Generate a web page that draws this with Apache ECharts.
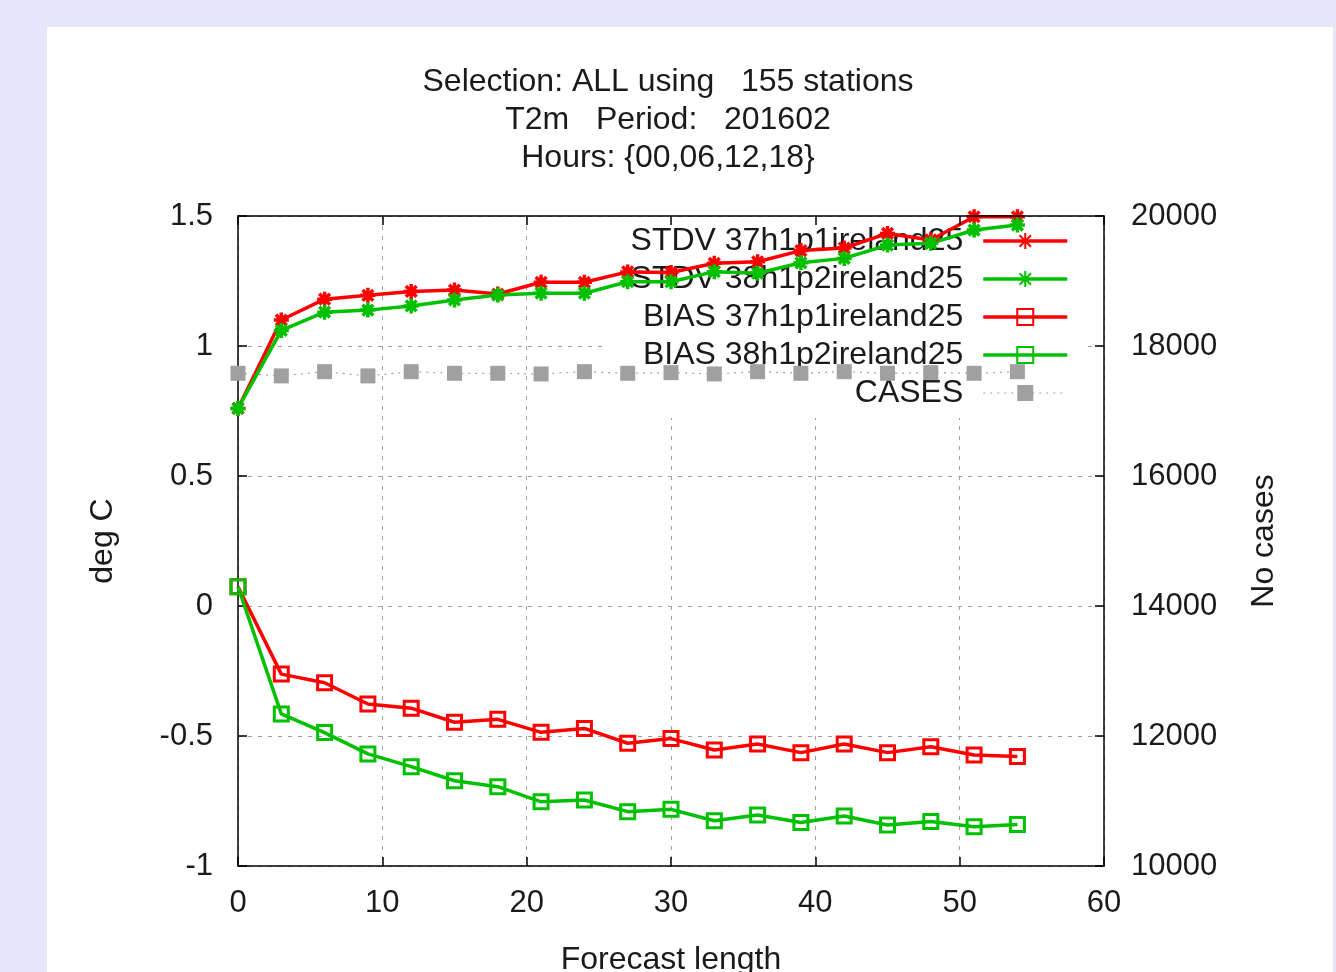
<!DOCTYPE html>
<html>
<head>
<meta charset="utf-8">
<script src="https://cdn.jsdelivr.net/npm/echarts@6/dist/echarts.min.js"></script>
<style>
    html, body {margin: 0; padding: 0; background: #e6e6fa; overflow: hidden;}
    #panel {position: absolute; left: 47px; top: 27px; width: 1286px; height: 960px; background: #fff;}
    #my_chart {position: absolute; left: 0; top: 0; width: 1336px; height: 972px;}
</style>
</head>
<body>
<div id="panel"></div>
<div id="my_chart"></div>
<script>
// forecast length (hours)
var hours = [0, 3, 6, 9, 12, 15, 18, 21, 24, 27, 30, 33, 36, 39, 42, 45, 48, 51, 54];

var stdv37 = [0.76, 1.10, 1.18, 1.195, 1.21, 1.215, 1.20, 1.245, 1.245, 1.285, 1.283, 1.318, 1.324, 1.367, 1.377, 1.433, 1.408, 1.497, 1.497];
var stdv38 = [0.76, 1.06, 1.13, 1.138, 1.154, 1.177, 1.196, 1.203, 1.203, 1.247, 1.247, 1.286, 1.28, 1.32, 1.337, 1.388, 1.395, 1.446, 1.465];
var bias37 = [0.074, -0.262, -0.295, -0.377, -0.393, -0.447, -0.436, -0.486, -0.471, -0.528, -0.51, -0.554, -0.531, -0.564, -0.531, -0.564, -0.541, -0.573, -0.579];
var bias38 = [0.074, -0.415, -0.487, -0.569, -0.618, -0.672, -0.695, -0.753, -0.746, -0.791, -0.782, -0.826, -0.804, -0.833, -0.808, -0.842, -0.829, -0.849, -0.840];
var cases = [17580, 17540, 17605, 17540, 17605, 17580, 17580, 17570, 17605, 17580, 17590, 17570, 17605, 17580, 17605, 17580, 17590, 17580, 17605];

var names = ['STDV 37h1p1ireland25', 'STDV 38h1p2ireland25', 'BIAS 37h1p1ireland25', 'BIAS 38h1p2ireland25', 'CASES'];
var titleLines = ['Selection: ALL using   155 stations', 'T2m   Period:   201602', 'Hours: {00,06,12,18}'];

var RED = '#ff0000', GREEN = '#00c000', GRAY = '#a0a0a0';
var FONT = "'Liberation Sans', Arial, sans-serif";
var TXT = '#1a1a1a';
var STAR = 'path://M0,7L14,7M7,0L7,14M2,2L12,12M12,2L2,12';

function pairs(ys) {
    var out = [];
    for (var i = 0; i < hours.length; i++) {
        out.push([hours[i], ys[i]]);
    }
    return out;
}

function starSeries(name, ys, color) {
    return {
        type: 'line', name: name, data: pairs(ys), z: 2,
        symbol: STAR, symbolSize: 15,
        lineStyle: {color: color, width: 3.5},
        itemStyle: {color: color, borderColor: color, borderWidth: 3.5}
    };
}

function boxSeries(name, ys, color) {
    return {
        type: 'line', name: name, data: pairs(ys), z: 2,
        symbol: 'rect', symbolSize: 14,
        lineStyle: {color: color, width: 3.5},
        itemStyle: {color: 'rgba(0,0,0,0)', borderColor: color, borderWidth: 3}
    };
}

function legendItems() {
    var out = [];
    for (var i = 0; i < names.length; i++) {
        out.push({name: names[i], lineStyle: {width: i < 4 ? 3.5 : 1.2}});
    }
    return out;
}

var blackLine = {show: true, onZero: false, lineStyle: {color: '#000', width: 1.5}};
var inTick = {show: true, inside: true, length: 9, lineStyle: {color: '#000', width: 1.5}};
var dashGrid = {show: true, lineStyle: {color: GRAY, width: 1, type: [4, 6]}};

var option = {
    animation: false,
    backgroundColor: 'transparent',
    title: {
        text: titleLines.join('\n'),
        left: 'center',
        top: 63,
        padding: 0,
        textStyle: {color: TXT, fontSize: 32, fontWeight: 'normal', fontFamily: FONT, lineHeight: 38}
    },
    grid: {left: 238, right: 232, top: 216, bottom: 106, outerBoundsMode: 'none'},
    legend: {
        data: legendItems(),
        orient: 'vertical',
        right: 249,
        top: 217,
        z: 1,
        align: 'right',
        padding: [5, 18, 6, 28],
        backgroundColor: '#fff',
        itemWidth: 84,
        itemHeight: 20,
        itemGap: 0,
        selectedMode: false,
        textStyle: {color: TXT, fontSize: 32, fontFamily: FONT, lineHeight: 38, padding: [0, 15, 0, 0]}
    },
    xAxis: [
        {
            type: 'value', min: 0, max: 60, interval: 10, position: 'bottom', z: 0,
            name: 'Forecast length', nameLocation: 'middle', nameGap: 78,
            nameTextStyle: {color: TXT, fontSize: 32, fontFamily: FONT},
            axisLine: blackLine, axisTick: inTick,
            axisLabel: {color: TXT, fontSize: 31, fontFamily: FONT, margin: 22},
            splitLine: dashGrid
        },
        {
            type: 'value', min: 0, max: 60, interval: 10, position: 'top', z: 3,
            axisLine: blackLine, axisTick: inTick,
            axisLabel: {show: false}, splitLine: {show: false}
        }
    ],
    yAxis: [
        {
            type: 'value', min: -1, max: 1.5, interval: 0.5, position: 'left', z: 0,
            name: 'deg C', nameLocation: 'middle', nameGap: 119, nameRotate: 90,
            nameTextStyle: {color: TXT, fontSize: 32, fontFamily: FONT},
            axisLine: blackLine, axisTick: inTick,
            axisLabel: {color: TXT, fontSize: 31, fontFamily: FONT, margin: 25},
            splitLine: dashGrid
        },
        {
            type: 'value', min: 10000, max: 20000, interval: 2000, position: 'right', z: 3,
            name: 'No cases', nameLocation: 'middle', nameGap: 144, nameRotate: 90,
            nameTextStyle: {color: TXT, fontSize: 32, fontFamily: FONT},
            axisLine: blackLine, axisTick: inTick,
            axisLabel: {
                color: TXT, fontSize: 31, fontFamily: FONT, margin: 27,
                formatter: function (v) { return String(v); }
            },
            splitLine: {show: false}
        }
    ],
    series: [
        starSeries(names[0], stdv37, RED),
        starSeries(names[1], stdv38, GREEN),
        boxSeries(names[2], bias37, RED),
        boxSeries(names[3], bias38, GREEN),
        {
            type: 'line', name: names[4], data: pairs(cases), yAxisIndex: 1, z: 2,
            symbol: 'rect', symbolSize: 15,
            lineStyle: {color: GRAY, width: 1.2, type: [2, 5]},
            itemStyle: {color: GRAY}
        }
    ]
};

var myChart = echarts.init(document.getElementById('my_chart'));
myChart.setOption(option);
</script>
</body>
</html>
